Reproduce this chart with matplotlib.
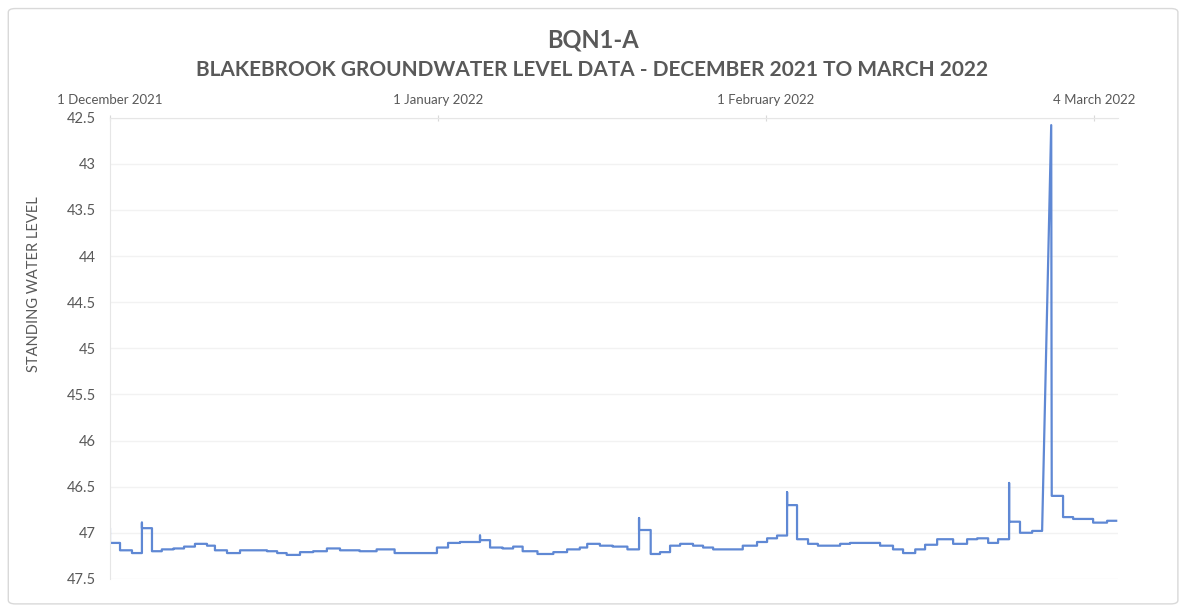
import numpy as np
import matplotlib.pyplot as plt
from matplotlib.patches import FancyBboxPatch

plt.rcParams['font.family'] = ['Lato', 'DejaVu Sans']

# step readings: start day, end day (days after 1 Dec 2021), level
seg_start = [0, 0, 0.95, 2.08, 3.02, 3.02, 3.97, 4.9, 6.0, 7.0, 8.03, 9.17, 9.92, 11.06,
             12.29, 14.84, 15.8, 16.7, 17.96, 19.2, 20.5, 21.74, 23.6, 25.2, 26.9, 30.9,
             31.95, 33.08, 34.97, 34.97, 35.92, 37.1, 38.1, 39.0, 40.4, 41.9, 43.2, 44.4,
             45.1, 46.3, 47.5, 48.9, 50.0, 50.0, 51.1, 51.98, 52.93, 53.88, 55.1, 56.05,
             57.0, 59.8, 61.15, 62.1, 63.04, 63.99, 63.99, 64.93, 65.97, 66.9, 69.0, 69.94,
             72.78, 74.0, 74.95, 76.1, 77.03, 78.17, 79.68, 81.0, 81.95, 82.99, 83.93,
             84.97, 84.97, 86.0, 87.15, 88.95, 89.0, 90.07, 91.02, 92.91, 94.23]
seg_end = [0, 0.95, 2.08, 3.02, 3.02, 3.97, 4.9, 6.0, 7.0, 8.03, 9.17, 9.92, 11.06, 12.29,
           14.84, 15.8, 16.7, 17.96, 19.2, 20.5, 21.74, 23.6, 25.2, 26.9, 30.9, 31.95,
           33.08, 34.97, 34.97, 35.92, 37.1, 38.1, 39.0, 40.4, 41.9, 43.2, 44.4, 45.1,
           46.3, 47.5, 48.9, 50.0, 50.0, 51.1, 51.98, 52.93, 53.88, 55.1, 56.05, 57.0,
           59.8, 61.15, 62.1, 63.04, 63.99, 63.99, 64.93, 65.97, 66.9, 69.0, 69.94, 72.78,
           74.0, 74.95, 76.1, 77.03, 78.17, 79.68, 81.0, 81.95, 82.99, 83.93, 84.97,
           84.97, 86.0, 87.15, 88.09, 88.95, 90.07, 91.02, 92.91, 94.23, 95.09]
seg_level = [46.96, 47.11, 47.19, 47.22, 46.89, 46.95, 47.2, 47.18, 47.17, 47.15, 47.12,
             47.14, 47.19, 47.22, 47.19, 47.2, 47.22, 47.24, 47.21, 47.2, 47.17, 47.19,
             47.2, 47.18, 47.22, 47.16, 47.11, 47.1, 47.03, 47.08, 47.16, 47.17, 47.15,
             47.2, 47.23, 47.21, 47.18, 47.16, 47.12, 47.14, 47.15, 47.18, 46.84, 46.97,
             47.23, 47.21, 47.14, 47.12, 47.14, 47.16, 47.18, 47.14, 47.1, 47.06, 47.03,
             46.56, 46.7, 47.07, 47.12, 47.14, 47.12, 47.11, 47.14, 47.18, 47.22, 47.18,
             47.13, 47.07, 47.12, 47.07, 47.06, 47.11, 47.07, 46.46, 46.88, 47.0, 46.98,
             42.58, 46.6, 46.83, 46.85, 46.89, 46.87]

tick_days = [0, 31, 62, 93]
tick_names = ['1 December 2021', '1 January 2022', '1 February 2022', '4 March 2022']
y_ticks = [42.5, 43, 43.5, 44, 44.5, 45, 45.5, 46, 46.5, 47, 47.5]

x = np.column_stack([seg_start, seg_end]).ravel()
y = np.repeat(seg_level, 2)

grey = '#595959'
fig = plt.figure(figsize=(11.85, 6.1), dpi=100)
fig.patches.append(FancyBboxPatch((0.007, 0.01), 0.987, 0.976,
                                  boxstyle='round,pad=0,rounding_size=0.006',
                                  transform=fig.transFigure, fill=False,
                                  edgecolor='#d9d9d9', linewidth=1))
ax = fig.add_axes([0.0928, 0.051, 0.851, 0.756])

ax.plot(x, y, color='#5f88d4', linewidth=1.6)

ax.set_ylim(47.5, 42.5)
ax.set_xlim(0, 95.3)
ax.set_yticks(y_ticks)
ax.set_yticklabels(['%g' % v for v in y_ticks])
ax.xaxis.tick_top()
ax.set_xticks(tick_days)
ax.set_xticklabels(tick_names)
ax.tick_params(axis='x', direction='inout', length=5, color='#d9d9d9',
               labelsize=9.5, labelcolor=grey, pad=6)
ax.tick_params(axis='y', length=0, labelsize=10.5, labelcolor=grey, pad=10)
ax.yaxis.grid(True, color='#f2f2f2', linewidth=1)
for s in ['right', 'bottom']:
    ax.spines[s].set_visible(False)
for s in ['left', 'top']:
    ax.spines[s].set_color('#e6e6e6')
ax.set_ylabel('STANDING WATER LEVEL', color=grey, fontsize=10.5)
ax.yaxis.set_label_coords(-0.068, 0.64)

fig.text(0.5, 0.935, 'BQN1-A', ha='center', va='center', fontsize=17,
         fontweight='bold', color=grey)
fig.text(0.5, 0.885, 'BLAKEBROOK GROUNDWATER LEVEL DATA - DECEMBER 2021 TO MARCH 2022',
         ha='center', va='center', fontsize=15, fontweight='bold', color=grey)

fig.savefig('out.png', dpi=100)
